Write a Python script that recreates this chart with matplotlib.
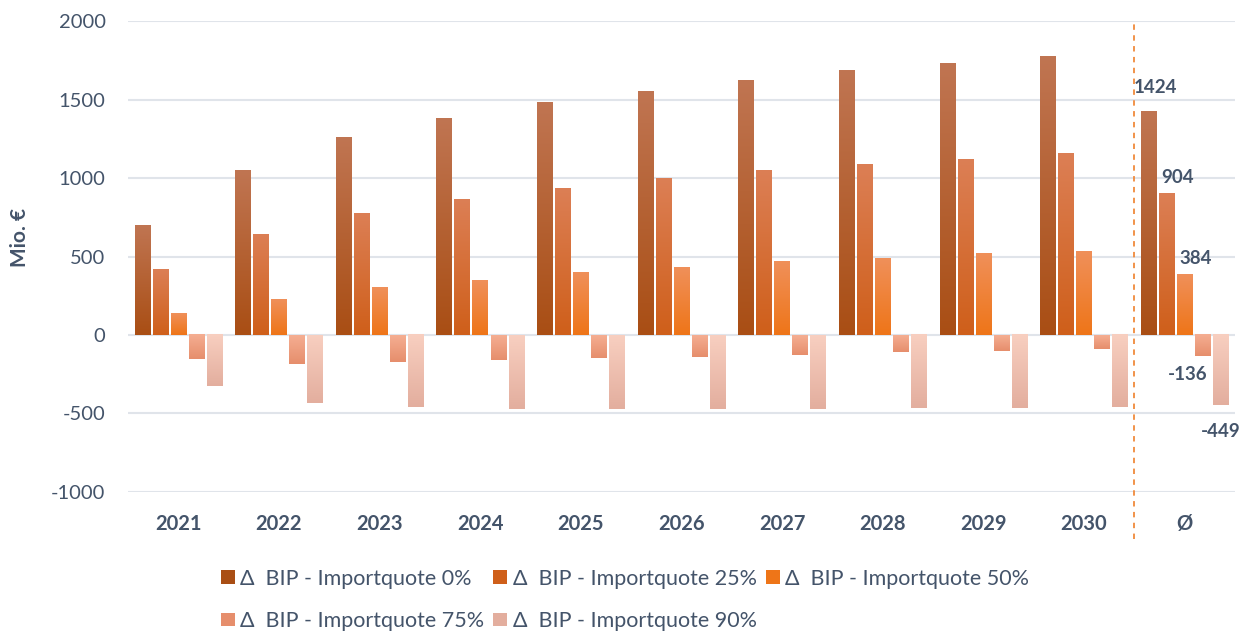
import numpy as np
import matplotlib
matplotlib.use('Agg')
import matplotlib.pyplot as plt
from matplotlib.colors import LinearSegmentedColormap
from matplotlib.patches import Patch

plt.rcParams['font.family'] = ['Lato', 'DejaVu Sans']
plt.rcParams['axes.unicode_minus'] = False

categories = ['2021', '2022', '2023', '2024', '2025', '2026', '2027', '2028', '2029', '2030', 'Ø']
series_names = ['Δ  BIP - Importquote 0%', 'Δ  BIP - Importquote 25%', 'Δ  BIP - Importquote 50%',
                'Δ  BIP - Importquote 75%', 'Δ  BIP - Importquote 90%']

bip_0 = [700, 1045, 1255, 1382, 1478, 1554, 1624, 1682, 1732, 1777, 1424]
bip_25 = [420, 637, 777, 866, 936, 994, 1045, 1083, 1121, 1153, 904]
bip_50 = [134, 229, 300, 350, 395, 433, 465, 490, 516, 535, 384]
bip_75 = [-155, -182, -170, -158, -145, -138, -125, -106, -100, -87, -136]
bip_90 = [-325, -433, -459, -471, -471, -471, -471, -465, -465, -459, -449]
all_series = [bip_0, bip_25, bip_50, bip_75, bip_90]

# top colour, bottom colour of each bar gradient
grad_colors = [('#C07552', '#A94E14'),
               ('#DC7F55', '#CF5F1A'),
               ('#F0905A', '#EE7518'),
               ('#F5AE92', '#E68E6C'),
               ('#F8CFC0', '#E3AE9E')]

text_color = '#44546A'
grid_color = '#E0E4EA'

fig = plt.figure(figsize=(12.41, 6.31), dpi=100)
ax = fig.add_axes([0.103, 0.2203, 0.892, 0.7464])

x = np.arange(len(categories))
stride = 0.179
width = 0.15
grad = np.linspace(0, 1, 256).reshape(-1, 1)

for i, (vals, (c_top, c_bot)) in enumerate(zip(all_series, grad_colors)):
    cmap = LinearSegmentedColormap.from_list('g%d' % i, [c_top, c_bot])
    bars = ax.bar(x + (i - 2) * stride, vals, width, color=c_bot, zorder=2, linewidth=0)
    for b in bars:
        x0 = b.get_x()
        y0 = min(b.get_y(), b.get_y() + b.get_height())
        y1 = max(b.get_y(), b.get_y() + b.get_height())
        ax.imshow(grad, extent=[x0, x0 + b.get_width(), y0, y1], aspect='auto',
                  cmap=cmap, origin='upper', zorder=3, interpolation='bilinear')

# value labels for the average group
offsets = [(5, 17), (8, 11), (8, 11.5), (-11, -13), (0, -19)]
for i, vals in enumerate(all_series):
    v = vals[-1]
    ax.annotate(str(v), (x[-1] + (i - 2) * stride, v), xytext=offsets[i],
                textcoords='offset points', ha='center', va='center',
                fontsize=13.5, fontweight='bold', color=text_color, zorder=5)

ax.axvline(9.5, ymin=-0.1, ymax=1.0, color='#F08A3C', lw=1.3, ls=(0, (3, 3)),
           clip_on=False, zorder=4)

ax.set_xlim(-0.5, 10.5)
ax.set_ylim(-1000, 2000)
ax.set_yticks(np.arange(-1000, 2001, 500))
ax.yaxis.grid(True, color=grid_color, lw=1.5, zorder=0)
ax.set_axisbelow(True)
ax.set_xticks(x)
ax.set_xticklabels(categories, fontweight='bold')
ax.tick_params(axis='x', length=0, pad=16, labelsize=14.5, labelcolor=text_color)
ax.tick_params(axis='y', length=0, pad=16, labelsize=14.5, labelcolor=text_color)
for s in ax.spines.values():
    s.set_visible(False)

ax.set_ylabel('Mio. €', fontsize=15, fontweight='bold', color=text_color)
ax.yaxis.set_label_coords(-0.088, 0.541)

handles = [Patch(facecolor=c_bot, label=n) for n, (c_top, c_bot) in zip(series_names, grad_colors)]
order = [0, 3, 1, 4, 2]
leg = fig.legend([handles[k] for k in order], [series_names[k] for k in order],
                 ncol=3, loc='upper left', bbox_to_anchor=(0.178, 0.099), frameon=False,
                 fontsize=15.5, handlelength=0.65, handleheight=0.6, handletextpad=0.25,
                 columnspacing=0.42, labelspacing=1.05, borderaxespad=0, borderpad=0)
for t in leg.get_texts():
    t.set_color(text_color)

fig.savefig('out.png', dpi=100)
